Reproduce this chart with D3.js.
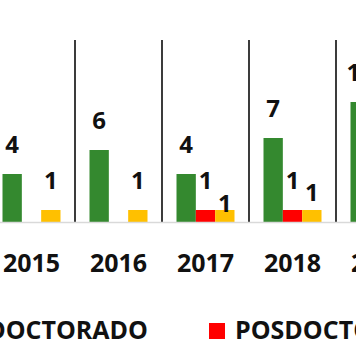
<!DOCTYPE html>
<html>
<head>
<meta charset="utf-8">
<script src="https://cdn.jsdelivr.net/npm/d3@7"></script>
<style>
  html, body { margin: 0; padding: 0; background: #fff; }
  svg { display: block; }
</style>
</head>
<body>
<svg id="chart" width="356" height="364"></svg>
<script>
// ---- data ----
const years = ["2015", "2016", "2017", "2018", "2019"];
const seriesNames = ["DOCTORADO", "POSDOCTORADO", "MAESTRÍA"];
const doctorado = [4, 6, 4, 7, 10];
const posdoctorado = [0, 0, 1, 1, 0];
const maestria = [1, 1, 1, 1, 0];
const seriesColors = ["#34892f", "#ff0000", "#ffc000"];

// ---- layout (not data) ----
const W = 356, H = 364;
const baseY = 222, plotTop = 40;
const font = "'Open Sans', 'Liberation Sans', sans-serif";
// manual label nudges (Excel-style hand-placed labels), in px, keyed by "year|series"
const labelNudge = { "2017|2": 23.5, "2018|2": 12.5 };

const seriesValues = [doctorado, posdoctorado, maestria];
const rows = years.map((yr, i) => ({ year: yr, values: seriesValues.map(s => s[i]) }));

const svg = d3.select("#chart");

const x0 = d3.scaleBand().domain(years).range([-12, -12 + 87 * years.length]).padding(0);
const x1 = d3.scaleBand().domain(d3.range(seriesNames.length)).range([14.5, 72.5]).padding(0);
const y = d3.scaleLinear().domain([0, 10]).range([baseY, 102]);

// vertical separators between groups
const seps = years.map(d => x0(d)).concat([x0(years[years.length - 1]) + x0.bandwidth()]);
svg.append("g").selectAll("line").data(seps).join("line")
  .attr("x1", d => d).attr("x2", d => d)
  .attr("y1", plotTop).attr("y2", baseY)
  .attr("stroke", "#262626").attr("stroke-width", 1.8);

// bars
const groups = svg.append("g").selectAll("g").data(rows).join("g")
  .attr("transform", d => `translate(${x0(d.year)},0)`);

groups.selectAll("rect")
  .data(d => d.values.map((v, k) => ({ v, k, year: d.year })).filter(e => e.v > 0))
  .join("rect")
  .attr("x", e => x1(e.k))
  .attr("width", x1.bandwidth())
  .attr("y", e => y(e.v))
  .attr("height", e => y(0) - y(e.v))
  .attr("fill", e => seriesColors[e.k]);

// value labels
groups.selectAll("text")
  .data(d => d.values.map((v, k) => ({ v, k, year: d.year })).filter(e => e.v > 0))
  .join("text")
  .attr("x", e => x1(e.k) + x1.bandwidth() / 2)
  .attr("y", e => y(e.v) - 21.5 + (labelNudge[e.year + "|" + e.k] || 0))
  .attr("text-anchor", "middle")
  .attr("font-family", font).attr("font-weight", 700).attr("font-size", 24)
  .attr("fill", "#111")
  .text(e => e.v);

// x axis (baseline + year labels)
const ax = svg.append("g").attr("transform", `translate(0,${y(0)})`)
  .call(d3.axisBottom(x0).tickSize(0).tickSizeOuter(0).tickPadding(0));
ax.select(".domain").attr("stroke", "#d9d9d9").attr("stroke-width", 1.5);
ax.selectAll("text")
  .attr("y", 50).attr("dy", null)
  .attr("font-family", font).attr("font-weight", 700).attr("font-size", 25)
  .attr("fill", "#111");

// legend
const legY = 339, sq = 16, gapSq = 10, gapItem = 61;
const leg = svg.append("g");
const items = leg.selectAll("g").data(seriesNames).join("g");
items.append("rect").attr("width", sq).attr("height", sq).attr("y", legY - sq)
  .attr("fill", (d, i) => seriesColors[i]);
items.append("text").attr("y", legY).attr("x", sq + gapSq)
  .attr("font-family", font).attr("font-weight", 700).attr("font-size", 25)
  .attr("fill", "#111").text(d => d);
// position: second item's square starts at x=209; others laid out relative to it
const widths = [];
items.each(function () { widths.push(sq + gapSq + d3.select(this).select("text").node().getComputedTextLength()); });
const starts = [];
starts[1] = 209;
starts[0] = starts[1] - gapItem - widths[0];
starts[2] = starts[1] + widths[1] + gapItem;
items.attr("transform", (d, i) => `translate(${starts[i]},0)`);
</script>
</body>
</html>
